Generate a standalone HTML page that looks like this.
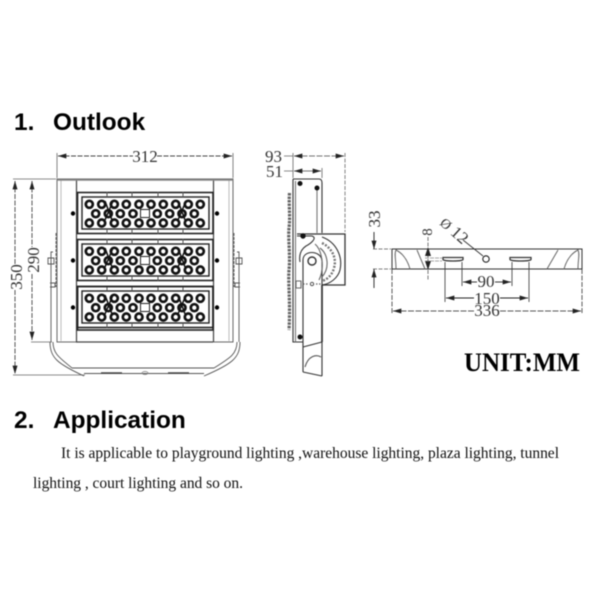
<!DOCTYPE html>
<html><head><meta charset="utf-8"><style>
html,body{margin:0;padding:0;background:#fff}
svg{display:block;filter:blur(0.4px)}
.d{font-family:"Liberation Serif",serif;font-size:17px;fill:#333}
.h{font-family:"Liberation Sans",sans-serif;font-size:24.4px;font-weight:bold;fill:#000}
.b{font-family:"Liberation Serif",serif;font-size:15.5px;fill:#111}
</style></head><body>
<svg width="600" height="600" viewBox="0 0 600 600" xmlns="http://www.w3.org/2000/svg">
<defs>
<marker id="a" viewBox="0 0 10 6" refX="10" refY="3" markerWidth="10" markerHeight="5" orient="auto-start-reverse" markerUnits="userSpaceOnUse"><path d="M0 0L10 3L0 6Z" fill="#222"/></marker>
<g id="m">
<rect x="77.500" y="192.500" width="135.500" height="41" fill="#fff" stroke="#222" stroke-width="1.600"/>
<rect x="82" y="197" width="127" height="32" fill="none" stroke="#222" stroke-width="1.400"/>
<g fill="none" stroke="#111" stroke-width="2.700">
<circle cx="89.300" cy="204.300" r="3.500"/><circle cx="101.700" cy="204.300" r="3.500"/><circle cx="114.300" cy="204.300" r="3.500"/><circle cx="126.300" cy="204.300" r="3.500"/><circle cx="139" cy="204.300" r="3.500"/><circle cx="151" cy="204.300" r="3.500"/><circle cx="163.300" cy="204.300" r="3.500"/><circle cx="175.700" cy="204.300" r="3.500"/><circle cx="188.300" cy="204.300" r="3.500"/><circle cx="200.300" cy="204.300" r="3.500"/>
<circle cx="95.700" cy="213.700" r="3.500"/><circle cx="108.300" cy="213.700" r="3.500"/><circle cx="120.300" cy="213.700" r="3.500"/><circle cx="133" cy="213.700" r="3.500"/><circle cx="157.300" cy="213.700" r="3.500"/><circle cx="169.700" cy="213.700" r="3.500"/><circle cx="182" cy="213.700" r="3.500"/><circle cx="194.300" cy="213.700" r="3.500"/>
<circle cx="89.300" cy="223" r="3.500"/><circle cx="101.700" cy="223" r="3.500"/><circle cx="114.300" cy="223" r="3.500"/><circle cx="126.300" cy="223" r="3.500"/><circle cx="139" cy="223" r="3.500"/><circle cx="151" cy="223" r="3.500"/><circle cx="163.300" cy="223" r="3.500"/><circle cx="175.700" cy="223" r="3.500"/><circle cx="188.300" cy="223" r="3.500"/><circle cx="200.300" cy="223" r="3.500"/>
</g>
<rect x="140.500" y="209.500" width="9" height="8" fill="#fff" stroke="#222" stroke-width="1"/>
<path d="M105 201L112 220M113 201L105 220M178 201L185 220M186 201L178 220" stroke="#111" stroke-width="1.500" fill="none"/>
<path d="M107 192v5M132 192v5M158 192v5M183 192v5M107 229v5M132 229v5M158 229v5M183 229v5" stroke="#555" stroke-width="1"/>
<circle cx="73" cy="213.500" r="2.200" fill="#000"/><circle cx="217" cy="213.500" r="2.200" fill="#000"/>
</g>
</defs>

<text class="h" x="14" y="130">1.</text><text class="h" x="53" y="130">Outlook</text>

<!-- front view -->
<g stroke="#666" stroke-width="0.800" fill="none">
<path d="M57 153V178M233 153V178M13 179H56M31 342H52M13 375H85"/>
</g>
<path d="M58 156H133" stroke="#444" stroke-width="0.900" stroke-dasharray="5 1.500" marker-start="url(#a)"/>
<path d="M157 156H232" stroke="#444" stroke-width="0.900" stroke-dasharray="5 1.500" marker-end="url(#a)"/>
<path d="M15 181V265" stroke="#444" stroke-width="0.900" stroke-dasharray="5 1.500" marker-start="url(#a)"/>
<path d="M15 290V374" stroke="#444" stroke-width="0.900" stroke-dasharray="5 1.500" marker-end="url(#a)"/>
<path d="M32 181V247" stroke="#444" stroke-width="0.900" stroke-dasharray="5 1.500" marker-start="url(#a)"/>
<path d="M32 274V340" stroke="#444" stroke-width="0.900" stroke-dasharray="5 1.500" marker-end="url(#a)"/>
<text class="d" x="145" y="162" text-anchor="middle">312</text>
<text class="d" transform="translate(22,277) rotate(-90)" text-anchor="middle">350</text>
<text class="d" transform="translate(39,260) rotate(-90)" text-anchor="middle">290</text>

<rect x="57" y="179" width="176" height="163" fill="#fff" stroke="#666" stroke-width="1"/>
<path d="M61 180V341M229 180V341" stroke="#aaa" stroke-width="0.800"/>
<path d="M76.500 180V342M213.500 180V342" stroke="#444" stroke-width="1.200"/>
<path d="M57 180H233" stroke="#888" stroke-width="1.500"/>
<path d="M76 342H213" stroke="#444" stroke-width="1.200"/>
<use href="#m"/>
<use href="#m" y="47"/>
<use href="#m" y="94"/>
<rect x="77.500" y="286.500" width="135.500" height="43.500" fill="none" stroke="#222" stroke-width="1.600"/>
<!-- bracket -->
<g fill="none" stroke="#555" stroke-width="0.900">
<path d="M50 342C50 358 58 364 84 376M240 342C240 358 232 364 204 376"/>
<path d="M53 342C53 354 60 358 72 368M237 342C237 354 230 358 214 368"/>
<path d="M72 368H214M84 373.500H204"/>
<path d="M51 342V252H53M239 342V252H237"/>
<path d="M56 233V287M234 233V287" stroke-dasharray="3 1"/>
<path d="M48 258H54V264H48ZM236 258H242V264H236Z"/>
<path d="M50 283H55V287H50M240 283H235V287H240"/>
</g>
<path d="M101 373H122M168 373H189" stroke="#444" stroke-width="1.600"/>
<ellipse cx="145" cy="373" rx="3" ry="1.500" fill="none" stroke="#777" stroke-width="0.700"/>

<!-- side view -->
<text class="d" x="265" y="162">93</text>
<text class="d" x="266" y="177">51</text>
<g stroke="#666" stroke-width="0.800" fill="none">
<path d="M284 156H293M284 171H293M293 153V178M322 168V178"/>
<path d="M345 153V232" stroke-dasharray="4 1.500"/>
</g>
<path d="M294 156H344" stroke="#444" stroke-width="0.800" stroke-dasharray="6 1.500" marker-start="url(#a)" marker-end="url(#a)"/>
<path d="M294 171H321" stroke="#444" stroke-width="0.800" marker-start="url(#a)" marker-end="url(#a)"/>
<path d="M289.500 193C288.500 205 290.500 215 289 228C288 240 290.500 255 289 270C288 285 290.500 300 289 330" fill="none" stroke="#666" stroke-width="3.200" stroke-dasharray="2.500 1"/>
<g fill="none" stroke="#333" stroke-width="1.100">
<path d="M293 179H319Q322 179 322 183V233M293 179V342H303"/>
<path d="M295.500 181V342M317 190V233" stroke="#777"/>
<path d="M297 234H345V285H322" stroke-width="1.300"/>
<path d="M303 260V372M322 260V376" />
<path d="M322 285V342" stroke-width="1.700"/>
<path d="M303 260C303 250 320 250 322 260"/>
<path d="M303 347L322 342M303 372L322 376"/>
<path d="M305 367C308 356 316 354 321 357" stroke="#555"/>
<path d="M297 236H312C318 238 310 244 306 246C300 250 299 256 300 262"/>
<path d="M322 237C336 242 343 256 340 270C338 278 330 284 322 285"/>
<path d="M322 243C332 248 337 258 334 268C332 276 326 280 322 281" stroke="#777" stroke-dasharray="2 1.500" stroke-width="2.400"/>
<path d="M320 248C328 254 330 268 322 277" stroke="#666"/>
<path d="M315 244C322 250 325 268 319 280" stroke="#666"/>
<path d="M296 281H301V288H296Z" stroke="#666"/>
</g>
<circle cx="312" cy="261" r="4" fill="#fff" stroke="#333" stroke-width="1.400"/>
<circle cx="312" cy="284" r="1.700" fill="#fff" stroke="#444" stroke-width="0.900"/>
<path d="M303 284H309M316 284H322" stroke="#666" stroke-width="1.200" stroke-dasharray="1.500 1.500"/>
<circle cx="300" cy="183.500" r="2.500" fill="#111"/><circle cx="317" cy="188" r="2.500" fill="#111"/>
<circle cx="303" cy="236" r="2.700" fill="#111"/><circle cx="300" cy="337" r="2.500" fill="#111"/>

<!-- right view -->
<text class="d" transform="translate(380,219) rotate(-90)" text-anchor="middle">33</text>
<text class="d" style="font-size:15px" transform="translate(432,232) rotate(-90)" text-anchor="middle">8</text>
<text class="d" transform="translate(439,224) rotate(42)"><tspan style="font-size:14px">Ø</tspan> 12</text>
<path d="M463 240L483 256" stroke="#333" stroke-width="0.900" fill="none"/>
<circle cx="486" cy="259" r="3.200" fill="#fff" stroke="#222" stroke-width="1.100"/>
<path d="M374 232V249" stroke="#222" stroke-width="0.900" marker-end="url(#a)"/>
<path d="M374 288V269" stroke="#222" stroke-width="0.900" marker-end="url(#a)"/>
<path d="M373 249H391M373 269H391" stroke="#555" stroke-width="0.700" stroke-dasharray="4 1.500"/>
<path d="M428 237V280" stroke="#555" stroke-width="0.800" stroke-dasharray="4 1.500"/>
<path d="M425 256L428 247L431 256ZM425 261L428 270L431 261Z" fill="#222"/>
<path d="M425 258H442M425 261H442" stroke="#888" stroke-width="0.800" stroke-dasharray="4 1"/>
<g fill="none" stroke="#333" stroke-width="1">
<path d="M392 249H582V269H392Z"/>
<path d="M392 269V314M582 269V314" stroke-width="0.800" stroke-dasharray="5 1.500"/>
<path d="M396 269C396 259 394 254 396 250C404 254 408 262 410 269" stroke="#666"/>
<path d="M578 269C578 259 580 254 578 250C570 254 566 262 564 269" stroke="#666"/>
<path d="M417 250L425 269M558 250L547 269" stroke="#666"/>
<path d="M443 257.500H463V259.500C463 261.500 443 261.500 443 259.500Z" stroke-width="1.300"/>
<path d="M510 257.500H531V259.500C531 261.500 510 261.500 510 259.500Z" stroke-width="1.300"/>
<path d="M445 262V302M462 262V286M512 262V286M529 262V302" stroke-width="0.800"/>
</g>
<path d="M463 282H477" stroke="#222" stroke-width="0.900" marker-start="url(#a)"/>
<path d="M495 282H511" stroke="#222" stroke-width="0.900" marker-end="url(#a)"/>
<path d="M446 298H474" stroke="#222" stroke-width="0.900" marker-start="url(#a)"/>
<path d="M500 298H528" stroke="#222" stroke-width="0.900" marker-end="url(#a)"/>
<path d="M393 311H474" stroke="#222" stroke-width="0.800" stroke-dasharray="6 1.500" marker-start="url(#a)"/>
<path d="M500 311H581" stroke="#222" stroke-width="0.800" stroke-dasharray="6 1.500" marker-end="url(#a)"/>
<text class="d" x="486" y="287" text-anchor="middle">90</text>
<text class="d" x="487" y="304" text-anchor="middle">150</text>
<text class="d" x="487" y="316" text-anchor="middle">336</text>

<text x="464" y="371" style="font-family:'Liberation Serif',serif;font-size:26px;font-weight:bold;fill:#000" textLength="116" lengthAdjust="spacingAndGlyphs">UNIT:MM</text>

<text class="h" x="14" y="428">2.</text><text class="h" x="53" y="428">Application</text>
<text class="b" x="61" y="458" textLength="498">It is applicable to playground lighting ,warehouse lighting, plaza lighting, tunnel</text>
<text class="b" x="33" y="488" textLength="210">lighting , court lighting and so on.</text>
</svg>
</body></html>
